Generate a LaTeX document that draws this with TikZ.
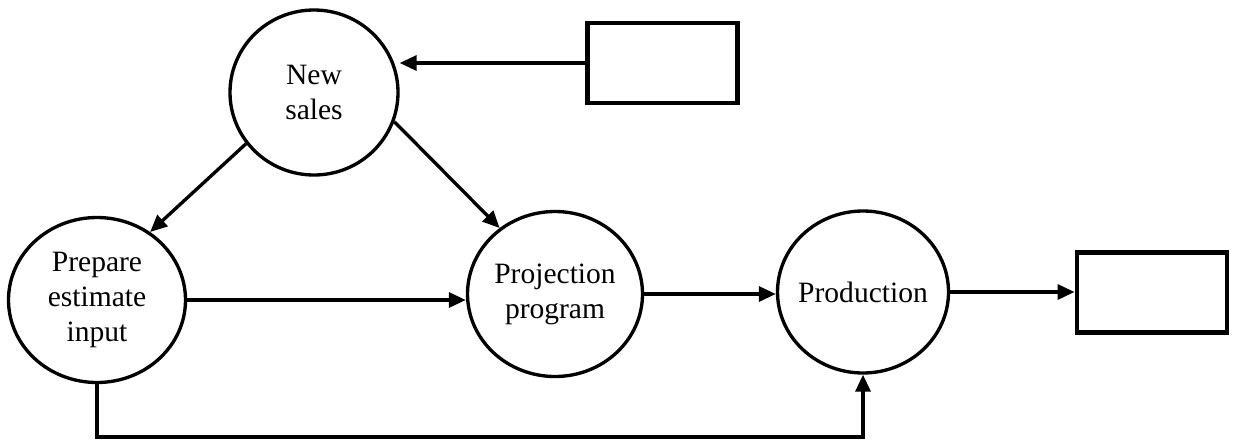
\documentclass[tikz,border=0pt]{standalone}
\usepackage{fontspec}
\setmainfont{Liberation Serif}
\usepackage{tikz}
\usetikzlibrary{arrows.meta, positioning, shapes.geometric}

\begin{document}
\begin{tikzpicture}[
    proc/.style={ellipse, draw, line width=1.9pt, inner sep=-0.15cm, align=center,
      font=\fontsize{16.8}{20}\selectfont},
    store/.style={rectangle, draw, line width=2.8pt, minimum width=3.0cm, minimum height=1.6cm},
    flow/.style={line width=1.9pt, -{Triangle[length=0.34cm, width=0.3cm]}}
  ]
    \useasboundingbox (0,0) rectangle (24.78,8.88);
    % processes
    \node[proc, minimum width=3.36cm, minimum height=3.3cm] (newsales) at (6.28, 7.03) {New\\sales};
    \node[proc, minimum width=3.54cm, minimum height=3.3cm] (prepare) at (1.94, 2.88) {Prepare\\estimate\\input};
    \node[proc, minimum width=3.5cm, minimum height=3.3cm] (projection) at (11.1, 3.0) {Projection\\program};
    \node[proc, minimum width=3.42cm, minimum height=3.24cm] (production) at (17.26, 3.04) {Production};
    % external boxes
    \node[store] (srcbox) at (13.25, 7.62) {};
    \node[store] (outbox) at (23.04, 3.03) {};
    % flows
    \draw[flow] (srcbox.west) -- (srcbox.west -| newsales.east);
    \draw[flow] (newsales.217) -- (prepare.52);
    \draw[flow] (newsales.-20) -- (projection.130);
    \draw[flow] (prepare.east) -- (prepare.east -| projection.west);
    \draw[flow] (projection.east) -- (projection.east -| production.west);
    \draw[flow] (production.east) -- (production.east -| outbox.west);
    \draw[flow] (prepare.south) -- (prepare.south |- 0,0.14) -| (production.south);
  \end{tikzpicture}
\end{document}
